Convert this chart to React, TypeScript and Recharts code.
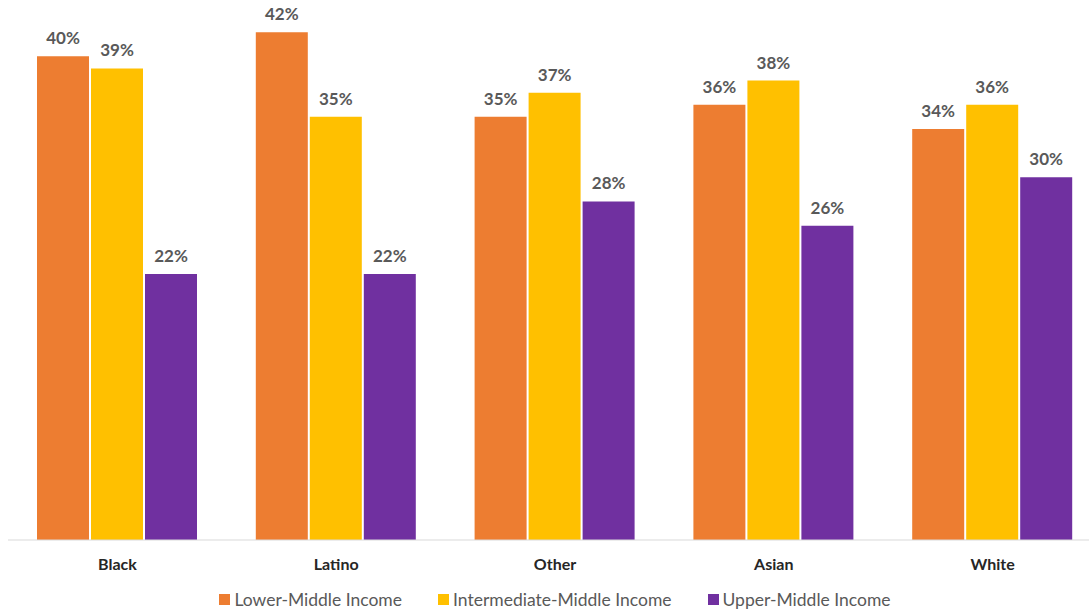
import React from "react";
import { BarChart, Bar, XAxis, YAxis, LabelList, Legend } from "recharts";

const categories = ["Black", "Latino", "Other", "Asian", "White"];
const lowerMiddle = [40, 42, 35, 36, 34];
const intermediateMiddle = [39, 35, 37, 38, 36];
const upperMiddle = [22, 22, 28, 26, 30];

const seriesInfo = [
  { key: "lower", name: "Lower-Middle Income", color: "#ED7D31" },
  { key: "inter", name: "Intermediate-Middle Income", color: "#FFC000" },
  { key: "upper", name: "Upper-Middle Income", color: "#7030A0" },
];

const data = categories.map((c, i) => ({
  category: c,
  lower: lowerMiddle[i],
  inter: intermediateMiddle[i],
  upper: upperMiddle[i],
}));

const FONT = "Lato, 'Open Sans', sans-serif";

const LegendContent = () => (
  <div
    style={{
      display: "flex",
      justifyContent: "center",
      alignItems: "center",
      height: 28,
      fontFamily: FONT,
      fontSize: 17.5,
      color: "#595959",
    }}
  >
    {seriesInfo.map((s, i) => (
      <div
        key={s.key}
        style={{ display: "flex", alignItems: "center", marginLeft: i === 0 ? 0 : 36 }}
      >
        <span
          style={{ display: "inline-block", width: 11, height: 11, background: s.color, marginRight: 4 }}
        />
        <span>{s.name}</span>
      </div>
    ))}
  </div>
);

const fmt = (v: any) => `${v}%`;

export default function App() {
  return (
    <div
      style={{
        position: "absolute",
        left: 0,
        top: 0,
        width: 1089,
        height: 613,
        overflow: "hidden",
        background: "#fff",
      }}
    >
      <BarChart
        width={1102}
        height={613}
        data={data}
        margin={{ top: 8, left: 8, right: 0, bottom: 0 }}
        barSize={52}
        barGap={2}
      >
        <XAxis
          dataKey="category"
          axisLine={{ stroke: "#D9D9D9", strokeWidth: 1 }}
          tickLine={false}
          tickSize={0}
          tickMargin={19}
          height={45}
          tick={{ fill: "#262626", fontFamily: FONT, fontWeight: 700, fontSize: 16 }}
          interval={0}
        />
        <YAxis hide domain={[0, 44]} />
        <Legend verticalAlign="bottom" height={28} content={<LegendContent />} />
        {seriesInfo.map((s) => (
          <Bar key={s.key} dataKey={s.key} name={s.name} fill={s.color} isAnimationActive={false}>
            <LabelList
              dataKey={s.key}
              position="top"
              offset={12}
              formatter={fmt}
              style={{ fill: "#595959", fontFamily: FONT, fontWeight: 700, fontSize: 17 }}
            />
          </Bar>
        ))}
      </BarChart>
    </div>
  );
}
